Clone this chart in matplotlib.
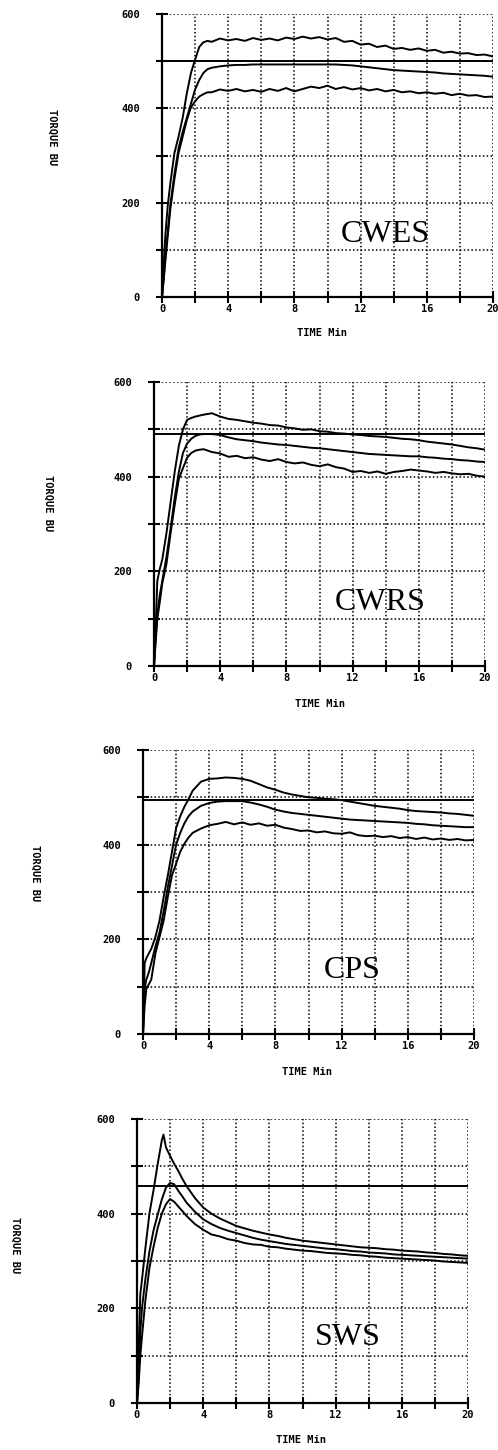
import numpy as np
import matplotlib.pyplot as plt
from matplotlib.ticker import MultipleLocator

W, H = 498, 1450

# sample times (min)
t_early = [0, 0.1, 0.2, 0.35, 0.5, 0.75, 1.0, 1.25, 1.5, 1.75, 2.0, 2.25, 2.5, 2.75]
t_early_sws = [0, 0.1, 0.2, 0.3, 0.5, 0.75, 1.0, 1.25, 1.5, 1.6, 1.75, 2.0, 2.25, 2.5, 2.75]
t_late = [3.0, 3.5, 4.0, 4.5, 5.0, 5.5, 6.0, 6.5, 7.0, 7.5, 8.0, 8.5, 9.0, 9.5,
          10.0, 10.5, 11.0, 11.5, 12.0, 12.5, 13.0, 13.5, 14.0, 14.5, 15.0, 15.5,
          16.0, 16.5, 17.0, 17.5, 18.0, 18.5, 19.0, 19.5, 20.0]

# CWES
cwes_upper = [0, 70, 130, 195, 240, 305, 340, 380, 432, 475, 503, 530, 540, 543,
              541, 548, 544, 547, 543, 549, 545, 548, 544, 550, 547, 552, 548, 551,
              546, 549, 541, 543, 535, 537, 530, 533, 526, 528, 524, 527, 522, 524,
              518, 520, 516, 517, 513, 514, 510]
cwes_mid = [0, 40, 85, 140, 195, 260, 315, 350, 380, 410, 440, 460, 475, 483,
            486, 489, 491, 492, 492, 493, 493, 493, 493, 493, 493, 493, 493, 493,
            493, 493, 492, 491, 489, 487, 485, 483, 481, 480, 479, 478, 477, 476,
            474, 473, 472, 471, 470, 469, 467]
cwes_lower = [0, 35, 75, 130, 185, 250, 305, 340, 375, 402, 415, 425, 430, 434,
              434, 440, 437, 441, 436, 439, 435, 441, 437, 443, 436, 441, 446, 443,
              448, 441, 445, 440, 443, 438, 441, 436, 439, 434, 436, 432, 434, 431,
              433, 428, 431, 427, 428, 424, 425]

# CWRS
cwrs_upper = [0, 80, 180, 205, 225, 280, 345, 410, 465, 500, 520, 524, 527, 529,
              531, 534, 527, 522, 520, 517, 514, 512, 509, 508, 504, 502, 499, 500,
              496, 495, 492, 491, 489, 488, 486, 485, 484, 482, 480, 479, 477, 474,
              472, 470, 468, 465, 462, 460, 457]
cwrs_mid = [0, 60, 110, 150, 180, 230, 290, 355, 410, 450, 470, 480, 486, 489,
            490, 490, 488, 483, 479, 477, 475, 472, 470, 468, 467, 465, 463, 461,
            460, 458, 456, 454, 452, 450, 448, 447, 446, 445, 444, 443, 443, 441,
            440, 438, 437, 435, 434, 432, 431]
cwrs_lower = [0, 50, 100, 135, 175, 215, 280, 340, 395, 418, 440, 450, 455, 457,
              458, 452, 449, 442, 444, 439, 441, 436, 433, 437, 431, 428, 430, 425,
              422, 426, 420, 417, 410, 412, 408, 411, 406, 410, 412, 415, 413, 411,
              408, 410, 407, 405, 406, 402, 400]

# CPS
cps_upper = [0, 150, 160, 170, 180, 205, 240, 290, 335, 385, 435, 460, 480, 496,
             514, 533, 539, 540, 542, 541, 539, 535, 528, 521, 516, 510, 506, 503,
             500, 499, 497, 496, 494, 491, 488, 485, 482, 480, 478, 476, 473, 471,
             470, 469, 468, 466, 465, 463, 461]
cps_mid = [0, 95, 115, 130, 150, 185, 215, 260, 310, 355, 400, 425, 445, 460,
           470, 482, 488, 491, 492, 492, 492, 489, 485, 480, 474, 470, 467, 465,
           463, 461, 459, 457, 455, 453, 452, 451, 450, 449, 448, 447, 446, 444,
           443, 441, 440, 439, 438, 437, 437]
cps_lower = [0, 60, 95, 105, 115, 170, 205, 240, 290, 335, 360, 385, 402, 415,
             425, 434, 441, 444, 448, 443, 447, 442, 445, 440, 442, 436, 433, 429,
             430, 426, 428, 424, 423, 426, 420, 418, 419, 416, 418, 414, 416, 412,
             415, 411, 413, 410, 412, 409, 410]

# SWS
sws_upper = [0, 120, 230, 260, 325, 400, 450, 505, 555, 567, 540, 522, 505, 490, 473,
             458, 433, 413, 400, 390, 382, 374, 369, 364, 360, 356, 353, 349, 346,
             343, 341, 339, 337, 335, 333, 331, 329, 328, 327, 325, 324, 322, 321,
             320, 318, 317, 315, 314, 312, 311]
sws_mid = [0, 60, 150, 200, 260, 320, 365, 398, 430, 440, 455, 465, 462, 448, 436,
           423, 404, 388, 378, 370, 364, 359, 354, 349, 345, 342, 339, 336, 334,
           332, 330, 328, 326, 325, 323, 321, 320, 318, 317, 316, 314, 313, 312,
           311, 310, 309, 308, 307, 306, 305]
sws_lower = [0, 40, 100, 140, 215, 285, 330, 370, 400, 408, 420, 431, 425, 415, 405,
             395, 378, 366, 356, 352, 346, 343, 338, 335, 334, 330, 329, 326, 324,
             322, 321, 319, 317, 316, 315, 313, 312, 310, 309, 307, 306, 305, 304,
             303, 302, 301, 299, 298, 297, 296]

names = ['CWES', 'CWRS', 'CPS', 'SWS']
ref_lines = [500, 490, 494, 458]
times = [t_early + t_late, t_early + t_late, t_early + t_late, t_early_sws + t_late]
curves = [(cwes_upper, cwes_mid, cwes_lower),
          (cwrs_upper, cwrs_mid, cwrs_lower),
          (cps_upper, cps_mid, cps_lower),
          (sws_upper, sws_mid, sws_lower)]

# layout in pixels: axes (left, right, top, bottom), ylabel xy, xlabel xy, name xy (data)
boxes = [(162, 493, 14, 297), (154, 485, 382, 666), (143, 474, 750, 1034), (137, 468, 1119, 1403)]
ylab_xy = [(52, 137), (48, 503), (35, 873), (15, 1245)]
xlab_xy = [(322, 333), (320, 704), (307, 1072), (301, 1440)]
name_xy = [(13.5, 117), (13.65, 118), (12.65, 118), (12.75, 122)]

mono = dict(family='DejaVu Sans Mono', weight='bold', size=7.5)

fig = plt.figure(figsize=(W / 100, H / 100), dpi=100)

for i in range(4):
    l, r, t, b = boxes[i]
    ax = fig.add_axes([l / W, 1 - b / H, (r - l) / W, (b - t) / H])
    tt = times[i]
    for c in curves[i]:
        ax.plot(tt, c, color='k', lw=1.4)
    ax.axhline(ref_lines[i], color='k', lw=1.4)

    ax.set_xlim(0, 20)
    ax.set_ylim(0, 600)
    ax.xaxis.set_major_locator(MultipleLocator(4))
    ax.xaxis.set_minor_locator(MultipleLocator(2))
    ax.yaxis.set_major_locator(MultipleLocator(200))
    ax.yaxis.set_minor_locator(MultipleLocator(100))
    ax.grid(which='both', color='k', linestyle=(0, (1, 1.5)), lw=1.1)
    ax.tick_params(which='both', direction='inout', length=8, width=1.5, colors='k')
    ax.tick_params(axis='y', which='major', pad=12)
    ax.tick_params(axis='x', which='major', pad=1)
    for lab in ax.get_xticklabels() + ax.get_yticklabels():
        lab.set_fontfamily(mono['family'])
        lab.set_fontweight(mono['weight'])
        lab.set_fontsize(mono['size'])
    for s in ['top', 'right']:
        ax.spines[s].set_visible(False)
    for s in ['left', 'bottom']:
        ax.spines[s].set_linewidth(1.6)

    ax.text(name_xy[i][0], name_xy[i][1], names[i], ha='center', va='baseline',
            family='Liberation Serif', size=23)

    fig.text(ylab_xy[i][0] / W, 1 - ylab_xy[i][1] / H, 'TORQUE BU', rotation=270,
             ha='center', va='center', **mono)
    fig.text(xlab_xy[i][0] / W, 1 - xlab_xy[i][1] / H, 'TIME Min',
             ha='center', va='center', **mono)

fig.savefig('out.png', dpi=100)
